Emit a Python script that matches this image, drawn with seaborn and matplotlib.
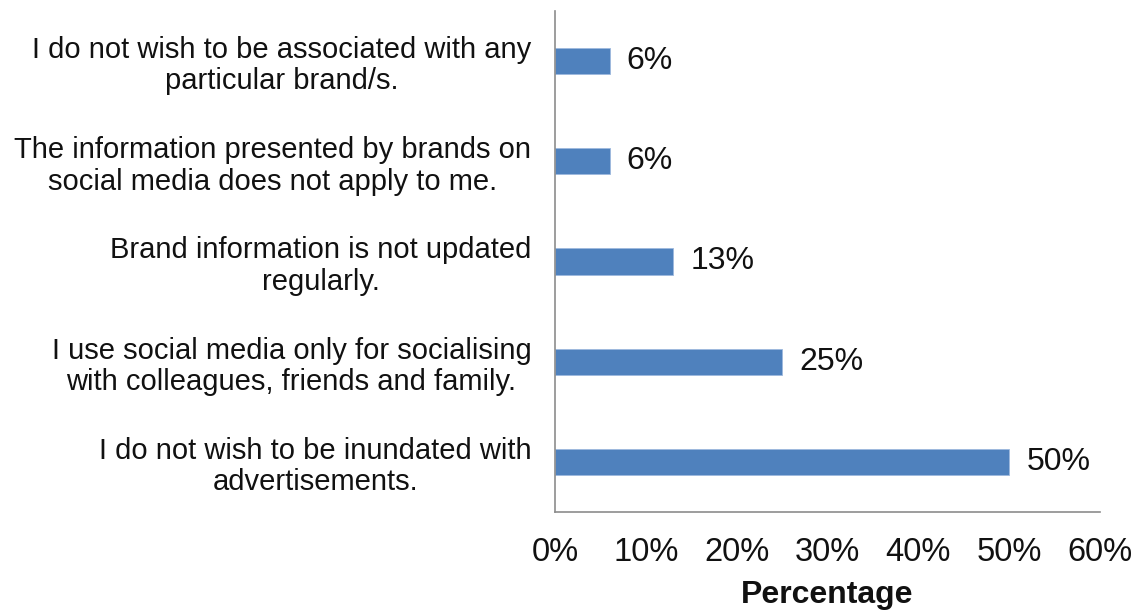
import matplotlib
matplotlib.use("Agg")
import matplotlib.pyplot as plt
import seaborn as sns
import pandas as pd

reasons = [
    "I do not wish to be associated with any\nparticular brand/s.",
    "The information presented by brands on\nsocial media does not apply to me.",
    "Brand information is not updated\nregularly.",
    "I use social media only for socialising\nwith colleagues, friends and family.",
    "I do not wish to be inundated with\nadvertisements.",
]
shares = [6, 6, 13, 25, 50]
x_ticks = [0, 10, 20, 30, 40, 50, 60]
x_tick_labels = ["0%", "10%", "20%", "30%", "40%", "50%", "60%"]

df = pd.DataFrame({"reason": reasons, "share": shares})

sns.set_style("white")
plt.rcParams["font.family"] = ["Liberation Sans", "DejaVu Sans"]

fig = plt.figure(figsize=(11.38, 6.10), dpi=100)
ax = fig.add_axes([0.4877, 0.1607, 0.4789, 0.8213])

sns.barplot(data=df, x="share", y="reason", orient="h", color="#4F81BD",
            saturation=1, width=0.26, edgecolor="#9DB9DE", linewidth=0.6, ax=ax)

for i, v in enumerate(shares):
    ax.text(v + 1.9, i, f"{v}%", va="center", ha="left", fontsize=23, color="#111111")

ax.set_xlim(0, 60)
ax.set_ylim(4.5, -0.5)
ax.set_xticks(x_ticks)
ax.set_xticklabels(x_tick_labels, fontsize=23.5, color="#111111")
ax.set_yticks(range(len(reasons)))
ax.set_yticklabels(reasons, fontsize=21, color="#111111",
                   multialignment="center", linespacing=1.15)
ax.tick_params(axis="x", direction="out", length=8, width=1, color="#8C8C8C", pad=10)
ax.tick_params(axis="y", length=0, pad=17)

ax.set_xlabel("Percentage", fontsize=23, fontweight="bold", labelpad=9, color="#111111")
ax.set_ylabel("")

for side in ["top", "right"]:
    ax.spines[side].set_visible(False)
for side in ["left", "bottom"]:
    ax.spines[side].set_color("#8C8C8C")
    ax.spines[side].set_linewidth(1.2)

fig.savefig("out.png", dpi=100, facecolor="white")
